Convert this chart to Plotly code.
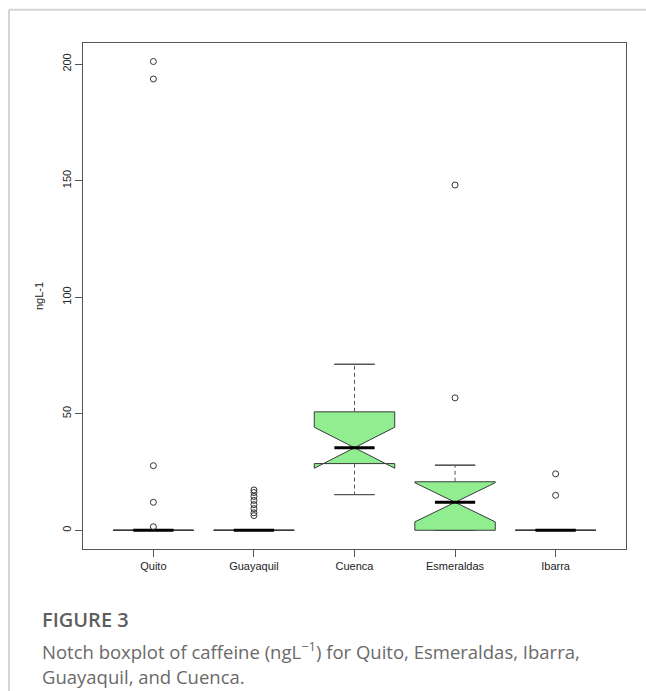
import plotly.graph_objects as go

# ---- data ----
cities = ["Quito", "Guayaquil", "Cuenca", "Esmeraldas", "Ibarra"]
q1 = [0, 0, 28.6, 0, 0]
median = [0, 0, 35.4, 12.0, 0]
q3 = [0, 0, 50.8, 20.8, 0]
lower_whisker = [0, 0, 15.3, 0, 0]
upper_whisker = [0, 0, 71.2, 27.9, 0]
notch_span = [0, 0, 8.8, 8.4, 0]

quito_out = [201.1, 193.6, 27.7, 12.0, 1.5]
guayaquil_out = [17.3, 16.2, 14.5, 12.8, 11.0, 9.3, 7.5, 6.3]
cuenca_out = []
esmeraldas_out = [148.1, 56.8]
ibarra_out = [24.2, 15.0]
outliers = [quito_out, guayaquil_out, cuenca_out, esmeraldas_out, ibarra_out]

y_ticks = [0, 50, 100, 150, 200]

LINE = "#3a3a3a"
FILL = "#90EE90"
AXIS_FONT = dict(family="Liberation Sans, Arial, sans-serif", size=11, color="#222222")

fig = go.Figure()

# dashed whiskers
wx, wy = [], []
for c, a, b, lo, hi in zip(cities, q1, q3, lower_whisker, upper_whisker):
    wx += [c, c, None, c, c, None]
    wy += [b, hi, None, a, lo, None]
fig.add_trace(go.Scatter(x=wx, y=wy, mode="lines",
                         line=dict(color="#555555", width=1, dash="4px,3px"),
                         hoverinfo="skip", showlegend=False))

# whisker staples (degenerate boxes at whisker ends)
for vals in (upper_whisker, lower_whisker):
    fig.add_trace(go.Box(x=cities, q1=vals, median=vals, q3=vals,
                         lowerfence=vals, upperfence=vals, width=0.4,
                         whiskerwidth=0, fillcolor="rgba(0,0,0,0)",
                         line=dict(color="#555555", width=1),
                         hoverinfo="skip", showlegend=False))

# notched boxes
fig.add_trace(go.Box(x=cities, q1=q1, median=median, q3=q3,
                     lowerfence=q1, upperfence=q3, notchspan=notch_span,
                     notched=True, notchwidth=0.5, width=0.8, whiskerwidth=0,
                     fillcolor=FILL, line=dict(color=LINE, width=1),
                     hoverinfo="skip", showlegend=False))

# thick medians
fig.add_trace(go.Box(x=cities, q1=median, median=median, q3=median,
                     lowerfence=median, upperfence=median, width=0.4,
                     whiskerwidth=0, fillcolor="rgba(0,0,0,0)",
                     line=dict(color="#000000", width=3),
                     hoverinfo="skip", showlegend=False))

# outliers
ox, oy = [], []
for c, vals in zip(cities, outliers):
    ox += [c] * len(vals)
    oy += vals
fig.add_trace(go.Scatter(x=ox, y=oy, mode="markers",
                         marker=dict(symbol="circle-open", size=6,
                                     color="#333333", line=dict(width=1)),
                         hoverinfo="skip", showlegend=False))

fig.update_layout(
    width=646, height=691,
    margin=dict(l=83, r=20, t=43, b=142),
    paper_bgcolor="white", plot_bgcolor="white",
    template="none",
    boxmode="overlay",
    showlegend=False,
    xaxis=dict(type="category", categoryorder="array", categoryarray=cities,
               range=[-0.7, 4.7], showgrid=False, zeroline=False,
               showline=True, mirror=True, linecolor="#555555", linewidth=1,
               ticks="outside", ticklen=7, tickcolor="#555555",
               tickfont=AXIS_FONT),
    yaxis=dict(range=[-8.04, 209.04], tickvals=y_ticks,
               ticktext=[str(v) for v in y_ticks], tickangle=-90,
               showgrid=False, zeroline=False,
               showline=True, mirror=True, linecolor="#555555", linewidth=1,
               ticks="outside", ticklen=7, tickcolor="#555555",
               tickfont=AXIS_FONT,
               title=dict(text="ngL-1", font=AXIS_FONT, standoff=14)),
)

# page border lines (top and left)
PX = lambda x: (x - 83) / 543
PY = lambda y: (549.4 - y) / 506.1
fig.add_shape(type="line", xref="paper", yref="paper",
              x0=PX(9), x1=PX(646), y0=PY(10), y1=PY(10),
              line=dict(color="#d4d4d4", width=2))
fig.add_shape(type="line", xref="paper", yref="paper",
              x0=PX(9), x1=PX(9), y0=PY(10), y1=PY(700),
              line=dict(color="#d4d4d4", width=2))

CAP_X = PX(40)
fig.add_annotation(text="FIGURE 3", xref="paper", yref="paper",
                   x=CAP_X, y=PY(620), xanchor="left", yanchor="middle",
                   showarrow=False,
                   font=dict(family="Open Sans, sans-serif", size=20,
                             color="#5e5e5e", weight=600))
fig.add_annotation(text="Notch boxplot of caffeine (ngL<sup>−1</sup>) for Quito, Esmeraldas, Ibarra,",
                   xref="paper", yref="paper",
                   x=CAP_X, y=PY(651), xanchor="left", yanchor="middle",
                   showarrow=False,
                   font=dict(family="Open Sans, sans-serif", size=18.5, color="#6a6a6a"))
fig.add_annotation(text="Guayaquil, and Cuenca.",
                   xref="paper", yref="paper",
                   x=CAP_X, y=PY(677), xanchor="left", yanchor="middle",
                   showarrow=False,
                   font=dict(family="Open Sans, sans-serif", size=18.5, color="#6a6a6a"))

fig.write_html("out.html",
               config={"displayModeBar": False},
               post_script="document.body.style.margin='0';document.body.style.overflow='hidden';")
